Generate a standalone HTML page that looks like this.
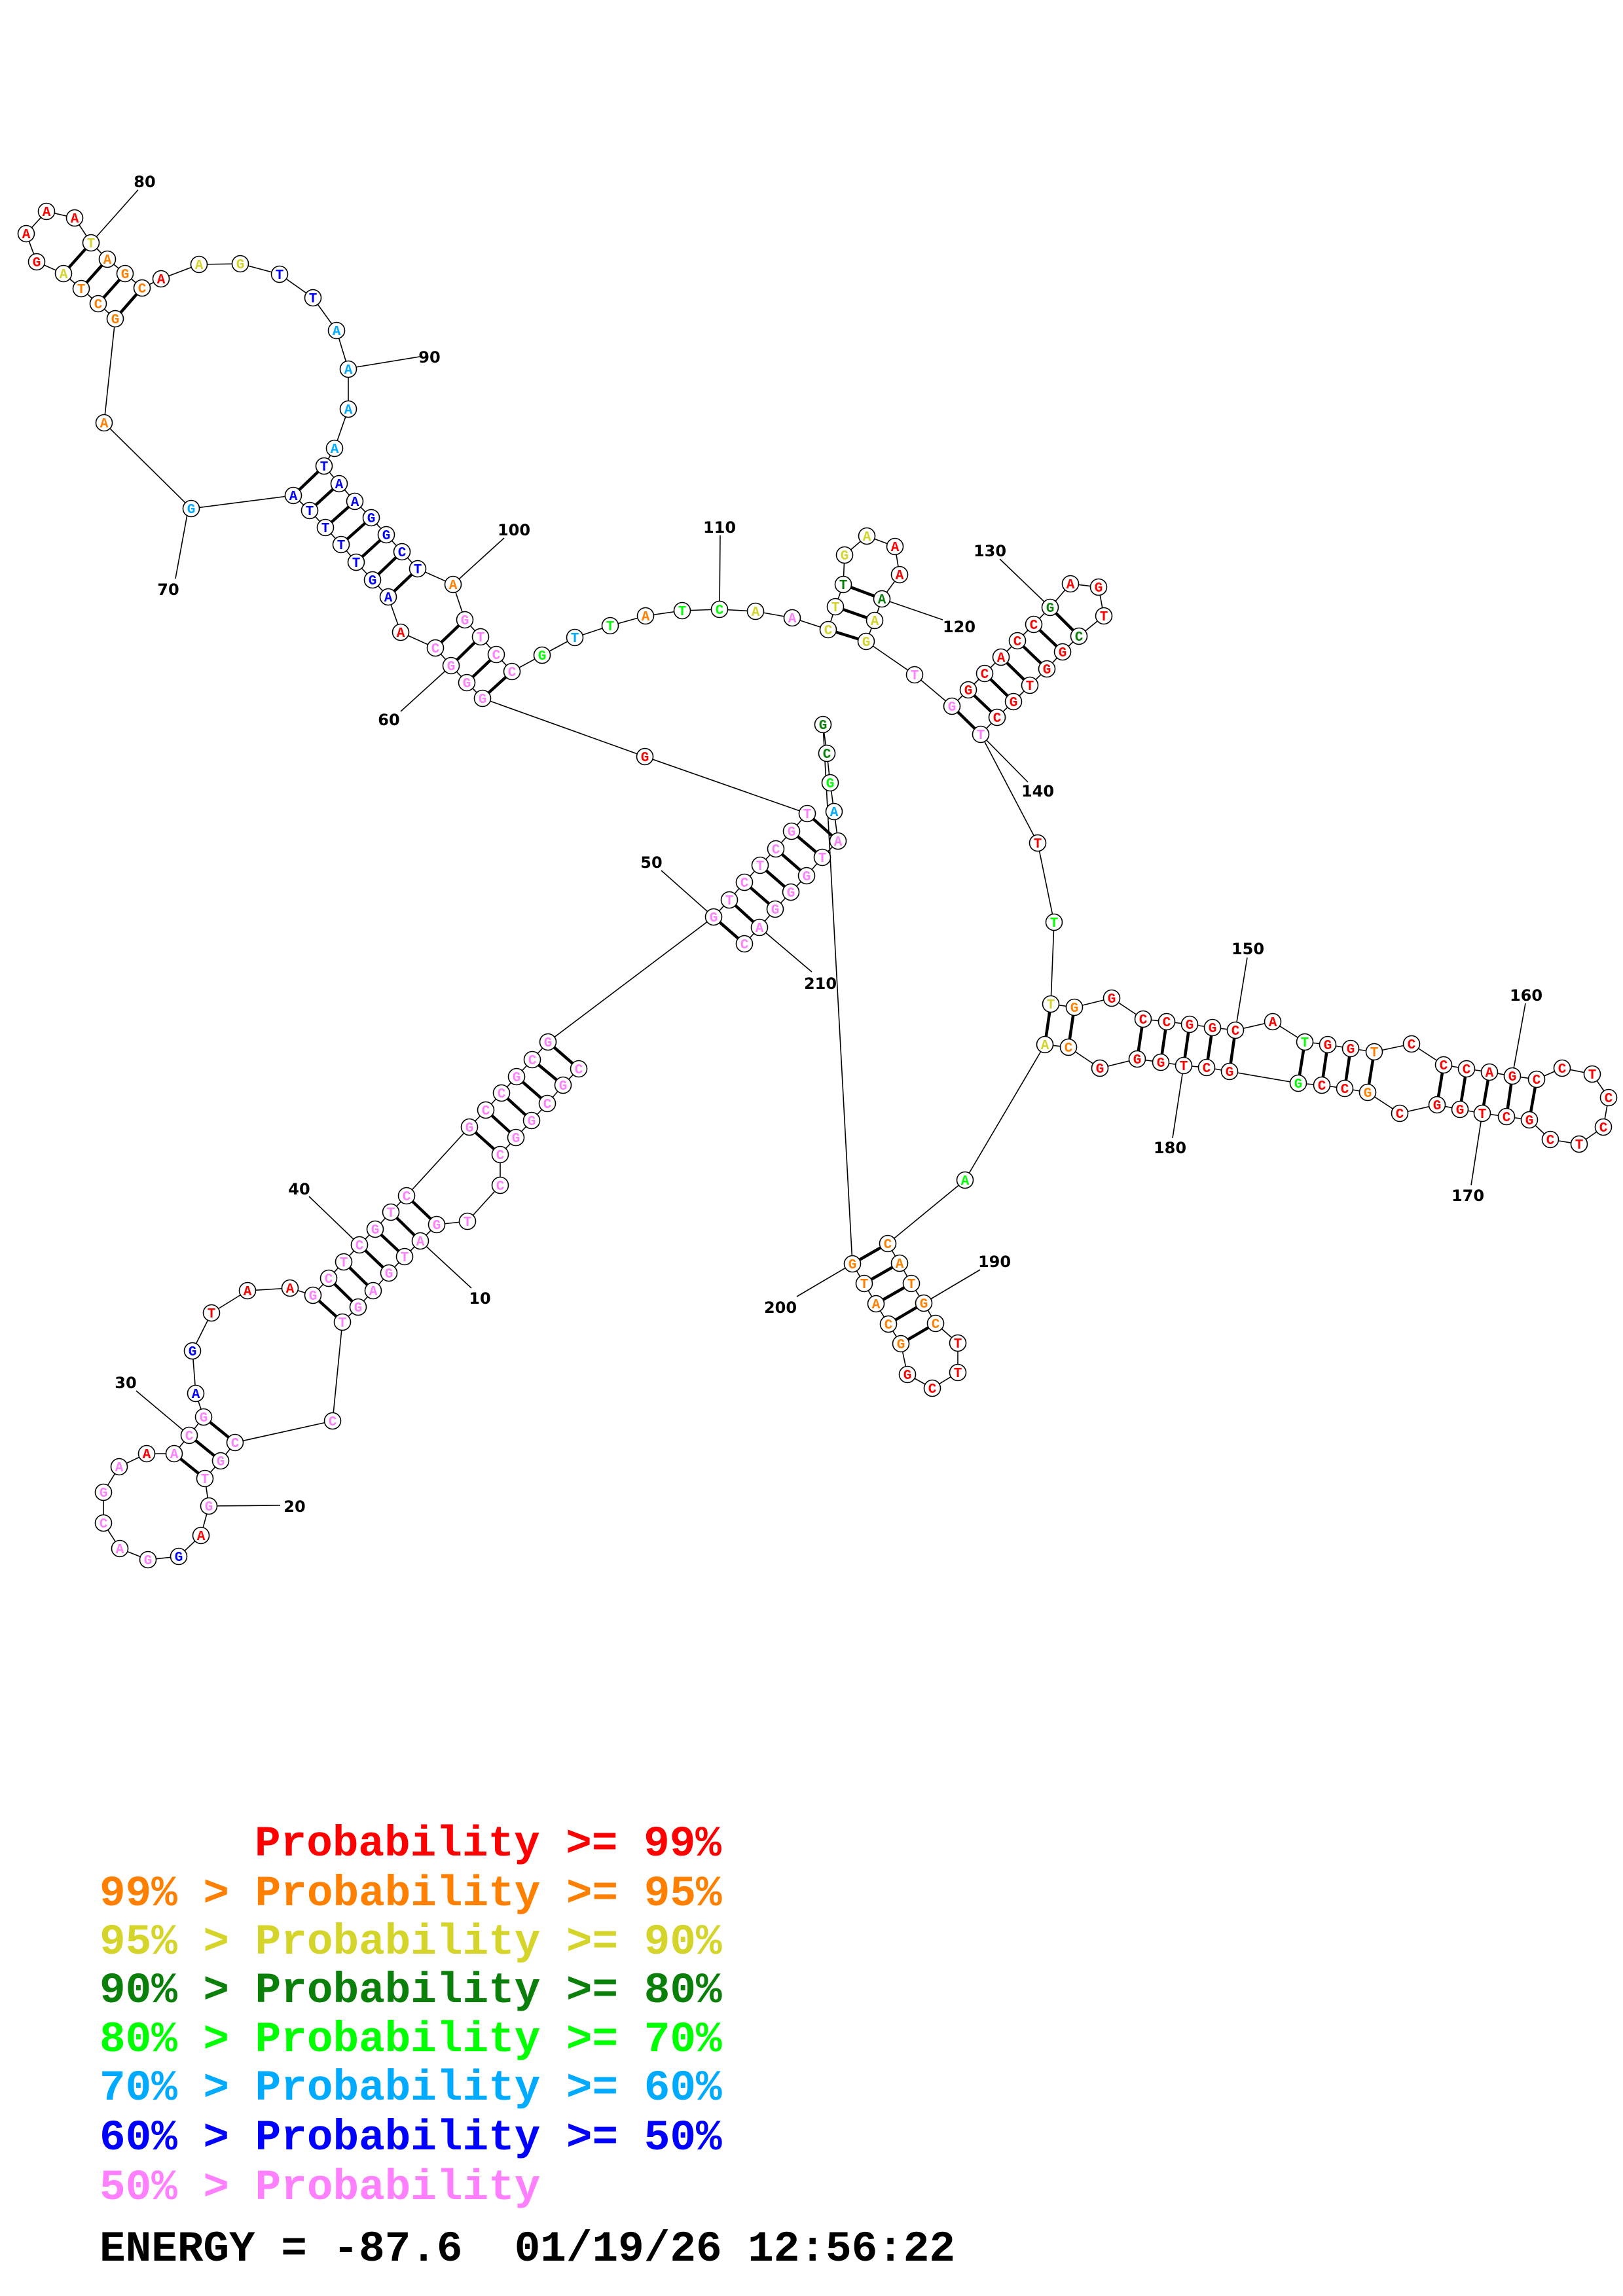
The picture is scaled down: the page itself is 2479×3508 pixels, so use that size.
<!DOCTYPE html>
<html><head><meta charset="utf-8"><style>
html,body{margin:0;padding:0;background:#fff;}
svg{display:block;}
.n circle{fill:#fff;stroke:#000;stroke-width:1.6;}
.n text{font-family:"Liberation Mono",monospace;font-weight:bold;font-size:21px;text-anchor:middle;}
.r{fill:#ff0000}.o{fill:#ff8000}.y{fill:#d4d42a}.d{fill:#0a800a}.g{fill:#00ff00}.l{fill:#00aaff}.b{fill:#0000ff}.p{fill:#ff80ff}
.lab{font-family:"DejaVu Sans","Liberation Sans",sans-serif;font-weight:bold;font-size:24px;text-anchor:middle;fill:#000;}
.leg{font-family:"Liberation Mono",monospace;font-weight:bold;font-size:66px;}
</style></head><body>
<svg width="2479" height="3508" viewBox="0 0 2479 3508" xmlns="http://www.w3.org/2000/svg">
<g stroke="#000" stroke-width="1.6">
<line x1="642" y1="1896" x2="720" y2="1968"/>
<line x1="319" y1="2301" x2="428" y2="2300"/>
<line x1="289" y1="2193" x2="208" y2="2125"/>
<line x1="549" y1="1902" x2="472" y2="1828"/>
<line x1="1090" y1="1401" x2="1010" y2="1330"/>
<line x1="689" y1="1017" x2="612" y2="1087"/>
<line x1="288" y1="775" x2="268" y2="884"/>
<line x1="139" y1="371" x2="211" y2="290"/>
<line x1="531" y1="563" x2="641" y2="545"/>
<line x1="692" y1="893" x2="770" y2="822"/>
<line x1="1099" y1="931" x2="1100" y2="818"/>
<line x1="1347" y1="915" x2="1440" y2="947"/>
<line x1="1604" y1="928" x2="1527" y2="854"/>
<line x1="1498" y1="1122" x2="1570" y2="1195"/>
<line x1="1887" y1="1574" x2="1905" y2="1463"/>
<line x1="2310" y1="1644" x2="2330" y2="1533"/>
<line x1="2264" y1="1701" x2="2247" y2="1811"/>
<line x1="1808" y1="1628" x2="1791" y2="1739"/>
<line x1="1411" y1="1991" x2="1497" y2="1940"/>
<line x1="1302" y1="1931" x2="1217" y2="1981"/>
<line x1="1160" y1="1417" x2="1240" y2="1485"/>
</g>
<g class="lab">
<text x="733" y="1992">10</text><text x="450" y="2310">20</text><text x="192" y="2121">30</text><text x="457" y="1825">40</text><text x="995" y="1326">50</text><text x="594" y="1108">60</text><text x="257" y="909">70</text><text x="221" y="286">80</text><text x="656" y="554">90</text><text x="785" y="818">100</text><text x="1099" y="814">110</text><text x="1465" y="966">120</text><text x="1512" y="850">130</text><text x="1585" y="1217">140</text><text x="1906" y="1458">150</text><text x="2331" y="1529">160</text><text x="2242" y="1835">170</text><text x="1787" y="1762">180</text><text x="1519" y="1936">190</text><text x="1192" y="2006">200</text><text x="1253" y="1511">210</text>
</g>
<polyline fill="none" stroke="#000" stroke-width="1.6" points="884,1633 860,1658 836,1686 812,1712 788,1738 764,1764 764,1811 714,1866 667,1871 642,1896 618,1920 594,1945 570,1972 547,1997 523,2020 508,2171 359,2204 337,2232 313,2259 319,2301 307,2346 273,2378 226,2383 183,2366 158,2327 158,2280 182,2241 224,2221 266,2221 289,2193 311,2165 299,2129 294,2064 323,2006 378,1972 443,1968 478,1979 502,1953 525,1928 549,1902 573,1878 597,1852 621,1827 717,1722 742,1696 766,1670 789,1645 813,1619 837,1592 1090,1401 1114,1375 1137,1348 1161,1322 1185,1297 1209,1270 1233,1243 985,1156 737,1067 713,1043 689,1017 665,990 612,966 593,912 569,886 544,859 521,832 497,806 473,780 448,757 292,777 159,646 176,487 150,464 124,441 97,418 56,400 40,357 71,323 114,333 139,371 164,396 191,418 217,440 246,426 304,404 367,403 427,419 478,455 514,505 532,564 532,625 511,685 495,712 518,739 542,766 567,791 590,817 614,843 638,869 692,893 710,947 734,973 758,1000 782,1026 828,1001 878,974 932,956 986,941 1042,933 1099,931 1154,934 1210,944 1265,962 1276,927 1288,893 1290,848 1324,819 1367,835 1374,878 1347,915 1336,948 1323,980 1397,1031 1454,1079 1479,1054 1504,1029 1529,1004 1554,979 1579,954 1604,928 1635,892 1678,897 1686,941 1648,972 1623,996 1599,1022 1573,1047 1548,1072 1523,1096 1498,1122 1585,1288 1610,1409 1605,1534 1641,1539 1698,1525 1746,1557 1782,1561 1817,1565 1852,1570 1887,1574 1944,1561 1993,1592 2028,1596 2063,1602 2099,1607 2156,1595 2205,1627 2240,1633 2275,1638 2310,1644 2347,1649 2386,1632 2432,1641 2457,1677 2449,1722 2412,1748 2368,1741 2336,1711 2301,1706 2264,1701 2230,1695 2195,1688 2138,1701 2089,1669 2054,1663 2019,1658 1983,1655 1878,1637 1843,1631 1808,1628 1773,1623 1737,1618 1680,1632 1632,1600 1596,1596 1474,1803 1356,1900 1374,1930 1392,1961 1411,1991 1429,2022 1463,2052 1463,2097 1424,2121 1386,2100 1376,2053 1357,2023 1338,1992 1320,1961 1302,1931 1257,1107 1263,1151 1268,1196 1274,1240 1280,1285 1256,1310 1232,1338 1208,1363 1184,1389 1160,1417 1137,1442"/>
<g stroke="#000" stroke-width="4.5">
<line x1="884" y1="1633" x2="837" y2="1592"/><line x1="860" y1="1658" x2="813" y2="1619"/><line x1="836" y1="1686" x2="789" y2="1645"/><line x1="812" y1="1712" x2="766" y2="1670"/><line x1="788" y1="1738" x2="742" y2="1696"/><line x1="764" y1="1764" x2="717" y2="1722"/>
<line x1="667" y1="1871" x2="621" y2="1827"/><line x1="642" y1="1896" x2="597" y2="1852"/><line x1="618" y1="1920" x2="573" y2="1878"/><line x1="594" y1="1945" x2="549" y2="1902"/><line x1="570" y1="1972" x2="525" y2="1928"/><line x1="547" y1="1997" x2="502" y2="1953"/><line x1="523" y1="2020" x2="478" y2="1979"/>
<line x1="337" y1="2232" x2="289" y2="2193"/><line x1="313" y1="2259" x2="266" y2="2221"/><line x1="359" y1="2204" x2="311" y2="2165"/>
<line x1="1090" y1="1401" x2="1137" y2="1442"/><line x1="1114" y1="1375" x2="1160" y2="1417"/><line x1="1137" y1="1348" x2="1184" y2="1389"/><line x1="1161" y1="1322" x2="1208" y2="1363"/><line x1="1185" y1="1297" x2="1232" y2="1338"/><line x1="1209" y1="1270" x2="1256" y2="1310"/><line x1="1233" y1="1243" x2="1280" y2="1285"/>
<line x1="737" y1="1067" x2="782" y2="1026"/><line x1="713" y1="1043" x2="758" y2="1000"/><line x1="689" y1="1017" x2="734" y2="973"/><line x1="665" y1="990" x2="710" y2="947"/>
<line x1="593" y1="912" x2="638" y2="869"/><line x1="569" y1="886" x2="614" y2="843"/><line x1="544" y1="859" x2="590" y2="817"/><line x1="521" y1="832" x2="567" y2="791"/><line x1="497" y1="806" x2="542" y2="766"/><line x1="473" y1="780" x2="518" y2="739"/><line x1="448" y1="757" x2="495" y2="712"/>
<line x1="176" y1="487" x2="217" y2="440"/><line x1="150" y1="464" x2="191" y2="418"/><line x1="124" y1="441" x2="164" y2="396"/><line x1="97" y1="418" x2="139" y2="371"/>
<line x1="1265" y1="962" x2="1323" y2="980"/><line x1="1276" y1="927" x2="1336" y2="948"/><line x1="1288" y1="893" x2="1347" y2="915"/>
<line x1="1454" y1="1079" x2="1498" y2="1122"/><line x1="1479" y1="1054" x2="1523" y2="1096"/><line x1="1504" y1="1029" x2="1548" y2="1072"/><line x1="1529" y1="1004" x2="1573" y2="1047"/><line x1="1554" y1="979" x2="1599" y2="1022"/><line x1="1579" y1="954" x2="1623" y2="996"/><line x1="1604" y1="928" x2="1648" y2="972"/>
<line x1="1605" y1="1534" x2="1596" y2="1596"/><line x1="1641" y1="1539" x2="1632" y2="1600"/><line x1="1746" y1="1557" x2="1737" y2="1618"/><line x1="1782" y1="1561" x2="1773" y2="1623"/><line x1="1817" y1="1565" x2="1808" y2="1628"/><line x1="1852" y1="1570" x2="1843" y2="1631"/><line x1="1887" y1="1574" x2="1878" y2="1637"/><line x1="1993" y1="1592" x2="1983" y2="1655"/><line x1="2028" y1="1596" x2="2019" y2="1658"/><line x1="2063" y1="1602" x2="2054" y2="1663"/><line x1="2099" y1="1607" x2="2089" y2="1669"/><line x1="2205" y1="1627" x2="2195" y2="1688"/><line x1="2240" y1="1633" x2="2230" y2="1695"/><line x1="2275" y1="1638" x2="2264" y2="1701"/><line x1="2310" y1="1644" x2="2301" y2="1706"/><line x1="2347" y1="1649" x2="2336" y2="1711"/>
<line x1="1356" y1="1900" x2="1302" y2="1931"/><line x1="1374" y1="1930" x2="1320" y2="1961"/><line x1="1392" y1="1961" x2="1338" y2="1992"/><line x1="1411" y1="1991" x2="1357" y2="2023"/><line x1="1429" y1="2022" x2="1376" y2="2053"/>
</g>
<g class="n">
<circle cx="884" cy="1633" r="12.5"/><text x="884" y="1640" class="p">C</text>
<circle cx="860" cy="1658" r="12.5"/><text x="860" y="1665" class="p">G</text>
<circle cx="836" cy="1686" r="12.5"/><text x="836" y="1693" class="p">C</text>
<circle cx="812" cy="1712" r="12.5"/><text x="812" y="1719" class="p">G</text>
<circle cx="788" cy="1738" r="12.5"/><text x="788" y="1745" class="p">G</text>
<circle cx="764" cy="1764" r="12.5"/><text x="764" y="1771" class="p">C</text>
<circle cx="764" cy="1811" r="12.5"/><text x="764" y="1818" class="p">C</text>
<circle cx="714" cy="1866" r="12.5"/><text x="714" y="1873" class="p">T</text>
<circle cx="667" cy="1871" r="12.5"/><text x="667" y="1878" class="p">G</text>
<circle cx="642" cy="1896" r="12.5"/><text x="642" y="1903" class="p">A</text>
<circle cx="618" cy="1920" r="12.5"/><text x="618" y="1927" class="p">T</text>
<circle cx="594" cy="1945" r="12.5"/><text x="594" y="1952" class="p">G</text>
<circle cx="570" cy="1972" r="12.5"/><text x="570" y="1979" class="p">A</text>
<circle cx="547" cy="1997" r="12.5"/><text x="547" y="2004" class="p">G</text>
<circle cx="523" cy="2020" r="12.5"/><text x="523" y="2027" class="p">T</text>
<circle cx="508" cy="2171" r="12.5"/><text x="508" y="2178" class="p">C</text>
<circle cx="359" cy="2204" r="12.5"/><text x="359" y="2211" class="p">C</text>
<circle cx="337" cy="2232" r="12.5"/><text x="337" y="2239" class="p">G</text>
<circle cx="313" cy="2259" r="12.5"/><text x="313" y="2266" class="p">T</text>
<circle cx="319" cy="2301" r="12.5"/><text x="319" y="2308" class="p">G</text>
<circle cx="307" cy="2346" r="12.5"/><text x="307" y="2353" class="r">A</text>
<circle cx="273" cy="2378" r="12.5"/><text x="273" y="2385" class="b">G</text>
<circle cx="226" cy="2383" r="12.5"/><text x="226" y="2390" class="p">G</text>
<circle cx="183" cy="2366" r="12.5"/><text x="183" y="2373" class="p">A</text>
<circle cx="158" cy="2327" r="12.5"/><text x="158" y="2334" class="p">C</text>
<circle cx="158" cy="2280" r="12.5"/><text x="158" y="2287" class="p">G</text>
<circle cx="182" cy="2241" r="12.5"/><text x="182" y="2248" class="p">A</text>
<circle cx="224" cy="2221" r="12.5"/><text x="224" y="2228" class="r">A</text>
<circle cx="266" cy="2221" r="12.5"/><text x="266" y="2228" class="p">A</text>
<circle cx="289" cy="2193" r="12.5"/><text x="289" y="2200" class="p">C</text>
<circle cx="311" cy="2165" r="12.5"/><text x="311" y="2172" class="p">G</text>
<circle cx="299" cy="2129" r="12.5"/><text x="299" y="2136" class="b">A</text>
<circle cx="294" cy="2064" r="12.5"/><text x="294" y="2071" class="b">G</text>
<circle cx="323" cy="2006" r="12.5"/><text x="323" y="2013" class="r">T</text>
<circle cx="378" cy="1972" r="12.5"/><text x="378" y="1979" class="r">A</text>
<circle cx="443" cy="1968" r="12.5"/><text x="443" y="1975" class="r">A</text>
<circle cx="478" cy="1979" r="12.5"/><text x="478" y="1986" class="p">G</text>
<circle cx="502" cy="1953" r="12.5"/><text x="502" y="1960" class="p">C</text>
<circle cx="525" cy="1928" r="12.5"/><text x="525" y="1935" class="p">T</text>
<circle cx="549" cy="1902" r="12.5"/><text x="549" y="1909" class="p">C</text>
<circle cx="573" cy="1878" r="12.5"/><text x="573" y="1885" class="p">G</text>
<circle cx="597" cy="1852" r="12.5"/><text x="597" y="1859" class="p">T</text>
<circle cx="621" cy="1827" r="12.5"/><text x="621" y="1834" class="p">C</text>
<circle cx="717" cy="1722" r="12.5"/><text x="717" y="1729" class="p">G</text>
<circle cx="742" cy="1696" r="12.5"/><text x="742" y="1703" class="p">C</text>
<circle cx="766" cy="1670" r="12.5"/><text x="766" y="1677" class="p">C</text>
<circle cx="789" cy="1645" r="12.5"/><text x="789" y="1652" class="p">G</text>
<circle cx="813" cy="1619" r="12.5"/><text x="813" y="1626" class="p">C</text>
<circle cx="837" cy="1592" r="12.5"/><text x="837" y="1599" class="p">G</text>
<circle cx="1090" cy="1401" r="12.5"/><text x="1090" y="1408" class="p">G</text>
<circle cx="1114" cy="1375" r="12.5"/><text x="1114" y="1382" class="p">T</text>
<circle cx="1137" cy="1348" r="12.5"/><text x="1137" y="1355" class="p">C</text>
<circle cx="1161" cy="1322" r="12.5"/><text x="1161" y="1329" class="p">T</text>
<circle cx="1185" cy="1297" r="12.5"/><text x="1185" y="1304" class="p">C</text>
<circle cx="1209" cy="1270" r="12.5"/><text x="1209" y="1277" class="p">G</text>
<circle cx="1233" cy="1243" r="12.5"/><text x="1233" y="1250" class="p">T</text>
<circle cx="985" cy="1156" r="12.5"/><text x="985" y="1163" class="r">G</text>
<circle cx="737" cy="1067" r="12.5"/><text x="737" y="1074" class="p">G</text>
<circle cx="713" cy="1043" r="12.5"/><text x="713" y="1050" class="p">G</text>
<circle cx="689" cy="1017" r="12.5"/><text x="689" y="1024" class="p">G</text>
<circle cx="665" cy="990" r="12.5"/><text x="665" y="997" class="p">C</text>
<circle cx="612" cy="966" r="12.5"/><text x="612" y="973" class="r">A</text>
<circle cx="593" cy="912" r="12.5"/><text x="593" y="919" class="b">A</text>
<circle cx="569" cy="886" r="12.5"/><text x="569" y="893" class="b">G</text>
<circle cx="544" cy="859" r="12.5"/><text x="544" y="866" class="b">T</text>
<circle cx="521" cy="832" r="12.5"/><text x="521" y="839" class="b">T</text>
<circle cx="497" cy="806" r="12.5"/><text x="497" y="813" class="b">T</text>
<circle cx="473" cy="780" r="12.5"/><text x="473" y="787" class="b">T</text>
<circle cx="448" cy="757" r="12.5"/><text x="448" y="764" class="b">A</text>
<circle cx="292" cy="777" r="12.5"/><text x="292" y="784" class="l">G</text>
<circle cx="159" cy="646" r="12.5"/><text x="159" y="653" class="o">A</text>
<circle cx="176" cy="487" r="12.5"/><text x="176" y="494" class="o">G</text>
<circle cx="150" cy="464" r="12.5"/><text x="150" y="471" class="o">C</text>
<circle cx="124" cy="441" r="12.5"/><text x="124" y="448" class="o">T</text>
<circle cx="97" cy="418" r="12.5"/><text x="97" y="425" class="y">A</text>
<circle cx="56" cy="400" r="12.5"/><text x="56" y="407" class="r">G</text>
<circle cx="40" cy="357" r="12.5"/><text x="40" y="364" class="r">A</text>
<circle cx="71" cy="323" r="12.5"/><text x="71" y="330" class="r">A</text>
<circle cx="114" cy="333" r="12.5"/><text x="114" y="340" class="r">A</text>
<circle cx="139" cy="371" r="12.5"/><text x="139" y="378" class="y">T</text>
<circle cx="164" cy="396" r="12.5"/><text x="164" y="403" class="o">A</text>
<circle cx="191" cy="418" r="12.5"/><text x="191" y="425" class="o">G</text>
<circle cx="217" cy="440" r="12.5"/><text x="217" y="447" class="o">C</text>
<circle cx="246" cy="426" r="12.5"/><text x="246" y="433" class="r">A</text>
<circle cx="304" cy="404" r="12.5"/><text x="304" y="411" class="y">A</text>
<circle cx="367" cy="403" r="12.5"/><text x="367" y="410" class="y">G</text>
<circle cx="427" cy="419" r="12.5"/><text x="427" y="426" class="b">T</text>
<circle cx="478" cy="455" r="12.5"/><text x="478" y="462" class="b">T</text>
<circle cx="514" cy="505" r="12.5"/><text x="514" y="512" class="l">A</text>
<circle cx="532" cy="564" r="12.5"/><text x="532" y="571" class="l">A</text>
<circle cx="532" cy="625" r="12.5"/><text x="532" y="632" class="l">A</text>
<circle cx="511" cy="685" r="12.5"/><text x="511" y="692" class="l">A</text>
<circle cx="495" cy="712" r="12.5"/><text x="495" y="719" class="b">T</text>
<circle cx="518" cy="739" r="12.5"/><text x="518" y="746" class="b">A</text>
<circle cx="542" cy="766" r="12.5"/><text x="542" y="773" class="b">A</text>
<circle cx="567" cy="791" r="12.5"/><text x="567" y="798" class="b">G</text>
<circle cx="590" cy="817" r="12.5"/><text x="590" y="824" class="b">G</text>
<circle cx="614" cy="843" r="12.5"/><text x="614" y="850" class="b">C</text>
<circle cx="638" cy="869" r="12.5"/><text x="638" y="876" class="b">T</text>
<circle cx="692" cy="893" r="12.5"/><text x="692" y="900" class="o">A</text>
<circle cx="710" cy="947" r="12.5"/><text x="710" y="954" class="p">G</text>
<circle cx="734" cy="973" r="12.5"/><text x="734" y="980" class="p">T</text>
<circle cx="758" cy="1000" r="12.5"/><text x="758" y="1007" class="p">C</text>
<circle cx="782" cy="1026" r="12.5"/><text x="782" y="1033" class="p">C</text>
<circle cx="828" cy="1001" r="12.5"/><text x="828" y="1008" class="g">G</text>
<circle cx="878" cy="974" r="12.5"/><text x="878" y="981" class="l">T</text>
<circle cx="932" cy="956" r="12.5"/><text x="932" y="963" class="g">T</text>
<circle cx="986" cy="941" r="12.5"/><text x="986" y="948" class="o">A</text>
<circle cx="1042" cy="933" r="12.5"/><text x="1042" y="940" class="g">T</text>
<circle cx="1099" cy="931" r="12.5"/><text x="1099" y="938" class="g">C</text>
<circle cx="1154" cy="934" r="12.5"/><text x="1154" y="941" class="y">A</text>
<circle cx="1210" cy="944" r="12.5"/><text x="1210" y="951" class="p">A</text>
<circle cx="1265" cy="962" r="12.5"/><text x="1265" y="969" class="y">C</text>
<circle cx="1276" cy="927" r="12.5"/><text x="1276" y="934" class="y">T</text>
<circle cx="1288" cy="893" r="12.5"/><text x="1288" y="900" class="d">T</text>
<circle cx="1290" cy="848" r="12.5"/><text x="1290" y="855" class="y">G</text>
<circle cx="1324" cy="819" r="12.5"/><text x="1324" y="826" class="y">A</text>
<circle cx="1367" cy="835" r="12.5"/><text x="1367" y="842" class="r">A</text>
<circle cx="1374" cy="878" r="12.5"/><text x="1374" y="885" class="r">A</text>
<circle cx="1347" cy="915" r="12.5"/><text x="1347" y="922" class="d">A</text>
<circle cx="1336" cy="948" r="12.5"/><text x="1336" y="955" class="y">A</text>
<circle cx="1323" cy="980" r="12.5"/><text x="1323" y="987" class="y">G</text>
<circle cx="1397" cy="1031" r="12.5"/><text x="1397" y="1038" class="p">T</text>
<circle cx="1454" cy="1079" r="12.5"/><text x="1454" y="1086" class="p">G</text>
<circle cx="1479" cy="1054" r="12.5"/><text x="1479" y="1061" class="r">G</text>
<circle cx="1504" cy="1029" r="12.5"/><text x="1504" y="1036" class="r">C</text>
<circle cx="1529" cy="1004" r="12.5"/><text x="1529" y="1011" class="r">A</text>
<circle cx="1554" cy="979" r="12.5"/><text x="1554" y="986" class="r">C</text>
<circle cx="1579" cy="954" r="12.5"/><text x="1579" y="961" class="r">C</text>
<circle cx="1604" cy="928" r="12.5"/><text x="1604" y="935" class="d">G</text>
<circle cx="1635" cy="892" r="12.5"/><text x="1635" y="899" class="r">A</text>
<circle cx="1678" cy="897" r="12.5"/><text x="1678" y="904" class="r">G</text>
<circle cx="1686" cy="941" r="12.5"/><text x="1686" y="948" class="r">T</text>
<circle cx="1648" cy="972" r="12.5"/><text x="1648" y="979" class="d">C</text>
<circle cx="1623" cy="996" r="12.5"/><text x="1623" y="1003" class="r">G</text>
<circle cx="1599" cy="1022" r="12.5"/><text x="1599" y="1029" class="r">G</text>
<circle cx="1573" cy="1047" r="12.5"/><text x="1573" y="1054" class="r">T</text>
<circle cx="1548" cy="1072" r="12.5"/><text x="1548" y="1079" class="r">G</text>
<circle cx="1523" cy="1096" r="12.5"/><text x="1523" y="1103" class="r">C</text>
<circle cx="1498" cy="1122" r="12.5"/><text x="1498" y="1129" class="p">T</text>
<circle cx="1585" cy="1288" r="12.5"/><text x="1585" y="1295" class="r">T</text>
<circle cx="1610" cy="1409" r="12.5"/><text x="1610" y="1416" class="g">T</text>
<circle cx="1605" cy="1534" r="12.5"/><text x="1605" y="1541" class="y">T</text>
<circle cx="1641" cy="1539" r="12.5"/><text x="1641" y="1546" class="o">G</text>
<circle cx="1698" cy="1525" r="12.5"/><text x="1698" y="1532" class="r">G</text>
<circle cx="1746" cy="1557" r="12.5"/><text x="1746" y="1564" class="r">C</text>
<circle cx="1782" cy="1561" r="12.5"/><text x="1782" y="1568" class="r">C</text>
<circle cx="1817" cy="1565" r="12.5"/><text x="1817" y="1572" class="r">G</text>
<circle cx="1852" cy="1570" r="12.5"/><text x="1852" y="1577" class="r">G</text>
<circle cx="1887" cy="1574" r="12.5"/><text x="1887" y="1581" class="r">C</text>
<circle cx="1944" cy="1561" r="12.5"/><text x="1944" y="1568" class="r">A</text>
<circle cx="1993" cy="1592" r="12.5"/><text x="1993" y="1599" class="g">T</text>
<circle cx="2028" cy="1596" r="12.5"/><text x="2028" y="1603" class="r">G</text>
<circle cx="2063" cy="1602" r="12.5"/><text x="2063" y="1609" class="r">G</text>
<circle cx="2099" cy="1607" r="12.5"/><text x="2099" y="1614" class="o">T</text>
<circle cx="2156" cy="1595" r="12.5"/><text x="2156" y="1602" class="r">C</text>
<circle cx="2205" cy="1627" r="12.5"/><text x="2205" y="1634" class="r">C</text>
<circle cx="2240" cy="1633" r="12.5"/><text x="2240" y="1640" class="r">C</text>
<circle cx="2275" cy="1638" r="12.5"/><text x="2275" y="1645" class="r">A</text>
<circle cx="2310" cy="1644" r="12.5"/><text x="2310" y="1651" class="r">G</text>
<circle cx="2347" cy="1649" r="12.5"/><text x="2347" y="1656" class="r">C</text>
<circle cx="2386" cy="1632" r="12.5"/><text x="2386" y="1639" class="r">C</text>
<circle cx="2432" cy="1641" r="12.5"/><text x="2432" y="1648" class="r">T</text>
<circle cx="2457" cy="1677" r="12.5"/><text x="2457" y="1684" class="r">C</text>
<circle cx="2449" cy="1722" r="12.5"/><text x="2449" y="1729" class="r">C</text>
<circle cx="2412" cy="1748" r="12.5"/><text x="2412" y="1755" class="r">T</text>
<circle cx="2368" cy="1741" r="12.5"/><text x="2368" y="1748" class="r">C</text>
<circle cx="2336" cy="1711" r="12.5"/><text x="2336" y="1718" class="r">G</text>
<circle cx="2301" cy="1706" r="12.5"/><text x="2301" y="1713" class="r">C</text>
<circle cx="2264" cy="1701" r="12.5"/><text x="2264" y="1708" class="r">T</text>
<circle cx="2230" cy="1695" r="12.5"/><text x="2230" y="1702" class="r">G</text>
<circle cx="2195" cy="1688" r="12.5"/><text x="2195" y="1695" class="r">G</text>
<circle cx="2138" cy="1701" r="12.5"/><text x="2138" y="1708" class="r">C</text>
<circle cx="2089" cy="1669" r="12.5"/><text x="2089" y="1676" class="o">G</text>
<circle cx="2054" cy="1663" r="12.5"/><text x="2054" y="1670" class="r">C</text>
<circle cx="2019" cy="1658" r="12.5"/><text x="2019" y="1665" class="r">C</text>
<circle cx="1983" cy="1655" r="12.5"/><text x="1983" y="1662" class="g">G</text>
<circle cx="1878" cy="1637" r="12.5"/><text x="1878" y="1644" class="r">G</text>
<circle cx="1843" cy="1631" r="12.5"/><text x="1843" y="1638" class="r">C</text>
<circle cx="1808" cy="1628" r="12.5"/><text x="1808" y="1635" class="r">T</text>
<circle cx="1773" cy="1623" r="12.5"/><text x="1773" y="1630" class="r">G</text>
<circle cx="1737" cy="1618" r="12.5"/><text x="1737" y="1625" class="r">G</text>
<circle cx="1680" cy="1632" r="12.5"/><text x="1680" y="1639" class="r">G</text>
<circle cx="1632" cy="1600" r="12.5"/><text x="1632" y="1607" class="o">C</text>
<circle cx="1596" cy="1596" r="12.5"/><text x="1596" y="1603" class="y">A</text>
<circle cx="1474" cy="1803" r="12.5"/><text x="1474" y="1810" class="g">A</text>
<circle cx="1356" cy="1900" r="12.5"/><text x="1356" y="1907" class="o">C</text>
<circle cx="1374" cy="1930" r="12.5"/><text x="1374" y="1937" class="o">A</text>
<circle cx="1392" cy="1961" r="12.5"/><text x="1392" y="1968" class="o">T</text>
<circle cx="1411" cy="1991" r="12.5"/><text x="1411" y="1998" class="o">G</text>
<circle cx="1429" cy="2022" r="12.5"/><text x="1429" y="2029" class="o">C</text>
<circle cx="1463" cy="2052" r="12.5"/><text x="1463" y="2059" class="r">T</text>
<circle cx="1463" cy="2097" r="12.5"/><text x="1463" y="2104" class="r">T</text>
<circle cx="1424" cy="2121" r="12.5"/><text x="1424" y="2128" class="r">C</text>
<circle cx="1386" cy="2100" r="12.5"/><text x="1386" y="2107" class="r">G</text>
<circle cx="1376" cy="2053" r="12.5"/><text x="1376" y="2060" class="o">G</text>
<circle cx="1357" cy="2023" r="12.5"/><text x="1357" y="2030" class="o">C</text>
<circle cx="1338" cy="1992" r="12.5"/><text x="1338" y="1999" class="o">A</text>
<circle cx="1320" cy="1961" r="12.5"/><text x="1320" y="1968" class="o">T</text>
<circle cx="1302" cy="1931" r="12.5"/><text x="1302" y="1938" class="o">G</text>
<circle cx="1257" cy="1107" r="12.5"/><text x="1257" y="1114" class="d">G</text>
<circle cx="1263" cy="1151" r="12.5"/><text x="1263" y="1158" class="d">C</text>
<circle cx="1268" cy="1196" r="12.5"/><text x="1268" y="1203" class="g">G</text>
<circle cx="1274" cy="1240" r="12.5"/><text x="1274" y="1247" class="l">A</text>
<circle cx="1280" cy="1285" r="12.5"/><text x="1280" y="1292" class="p">A</text>
<circle cx="1256" cy="1310" r="12.5"/><text x="1256" y="1317" class="p">T</text>
<circle cx="1232" cy="1338" r="12.5"/><text x="1232" y="1345" class="p">G</text>
<circle cx="1208" cy="1363" r="12.5"/><text x="1208" y="1370" class="p">G</text>
<circle cx="1184" cy="1389" r="12.5"/><text x="1184" y="1396" class="p">G</text>
<circle cx="1160" cy="1417" r="12.5"/><text x="1160" y="1424" class="p">A</text>
<circle cx="1137" cy="1442" r="12.5"/><text x="1137" y="1449" class="p">C</text>
</g>
<g class="leg">
<text x="389" y="2835" class="r">Probability &gt;= 99%</text>
<text x="152" y="2911" class="o">99% &gt; Probability &gt;= 95%</text>
<text x="152" y="2985" class="y">95% &gt; Probability &gt;= 90%</text>
<text x="152" y="3059" class="d">90% &gt; Probability &gt;= 80%</text>
<text x="152" y="3134" class="g">80% &gt; Probability &gt;= 70%</text>
<text x="152" y="3208" class="l">70% &gt; Probability &gt;= 60%</text>
<text x="152" y="3284" class="b">60% &gt; Probability &gt;= 50%</text>
<text x="152" y="3360" class="p">50% &gt; Probability</text>
<text x="152" y="3454" fill="#000" xml:space="preserve">ENERGY = -87.6  01/19/26 12:56:22</text>
</g>
</svg>
</body></html>
